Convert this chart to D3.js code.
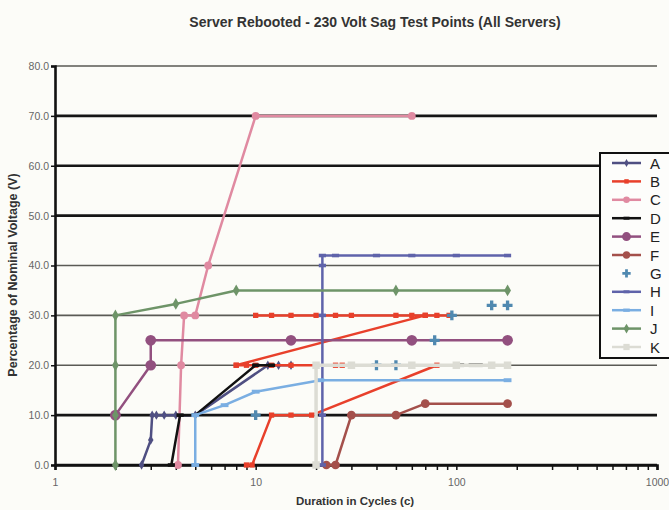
<!DOCTYPE html>
<html>
<head>
<meta charset="utf-8">
<script src="https://cdn.jsdelivr.net/npm/d3@7"></script>
<style>
  body { margin: 0; background: #fcfcf8; }
  svg { display: block; font-family: "Liberation Sans", Arial, sans-serif; }
</style>
</head>
<body>
<div id="chart"></div>
<script>
// Series names (legend order)
const seriesNames = ["A", "B", "C", "D", "E", "F", "G", "H", "I", "J", "K"];

// Test points [duration in cycles, % of nominal voltage]; null breaks the line
const seriesA = [[2.7, 0], [3, 5], [3.05, 10], [3.2, 10], [3.5, 10], [4, 10], [5, 10], [11.5, 20], [13, 20], [15, 20]];
const seriesB = [[9, 0], [9.6, 0], [12, 10], [15, 10], [19, 10], [80, 20], null,
                 [8, 20], [9, 20], [10, 20], [12, 20], [15, 20], [20, 20], [25, 20], [27, 20], null,
                 [8, 20], [70, 30], null,
                 [10, 30], [12, 30], [15, 30], [20, 30], [25, 30], [30, 30], [50, 30], [60, 30], [70, 30], [80, 30], [92, 30]];
const seriesC = [[4.1, 0], [4.25, 20], [4.4, 30], [5, 30], [5.8, 40], [10, 70], [60, 70]];
const seriesD = [[3.8, 0], [4.2, 10], [5, 10], [10, 20], [12, 20], null, [105, 20], [120, 20], [130, 20]];
const seriesE = [[2, 10], [3, 20], [3, 25], [15, 25], [60, 25], [180, 25]];
const seriesF = [[22.5, 0], [25, 0], [30, 10], [50, 10], [70, 12.3], [180, 12.3]];
const seriesG = [[10, 10], [40, 20], [50, 20], [78, 25], [95, 30], [150, 32], [180, 32]];
const seriesH = [[21.5, 0], [21.5, 10], [21.5, 30], [21.5, 40], [21.5, 42], [25, 42], [40, 42], [60, 42], [100, 42], [180, 42]];
const seriesI = [[5, 0], [5, 10], [7, 12], [10, 14.7], [21, 17], [180, 17]];
const seriesJ = [[2, 0], [2, 10], [2, 20], [2, 30], [4, 32.3], [8, 35], [50, 35], [180, 35]];
const seriesK = [[20, 0], [20, 20], [30, 20], [60, 20], [100, 20], [150, 20], [180, 20]];

const seriesData = [seriesA, seriesB, seriesC, seriesD, seriesE, seriesF, seriesG, seriesH, seriesI, seriesJ, seriesK];

// Axis ticks
const yTicks = [0, 10, 20, 30, 40, 50, 60, 70, 80];
const xTickLabels = [1, 10, 100, 1000];
const heavyGrid = [0, 10, 50, 60, 70];

// Styles per series
const colors = ["#4f4f82", "#e8402b", "#e08aa1", "#111111", "#92507f", "#a4504b",
                "#5089b0", "#5f63aa", "#7aaee2", "#6e9468", "#dcdcd4"];
const shapes = ["diamond", "square", "circle", "dash", "circle", "circle",
                "plus", "dash", "dash", "diamond", "square"];
const sizes = [26, 28, 48, 20, 90, 60, 55, 20, 24, 40, 56];
const widths = [2.5, 2.5, 2.5, 2.5, 2.5, 2.5, 0, 2.5, 2.5, 2.5, 3.5];

const width = 669, height = 510;

const svg = d3.select("#chart")
    .append("svg")
    .attr("width", width)
    .attr("height", height);

const x = d3.scaleLog().domain([1, 1000]).range([55, 657]);
const y = d3.scaleLinear().domain([0, 80]).range([465, 66]);

// Title
svg.append("text")
    .attr("x", 375).attr("y", 27)
    .attr("text-anchor", "middle")
    .attr("font-size", 14).attr("font-weight", "bold")
    .attr("fill", "#333")
    .text("Server Rebooted - 230 Volt Sag Test Points (All Servers)");

// Horizontal gridlines
svg.append("g")
  .selectAll("line")
  .data(yTicks)
  .join("line")
    .attr("x1", x(1)).attr("x2", x(1000))
    .attr("y1", d => y(d)).attr("y2", d => y(d))
    .attr("stroke", d => heavyGrid.includes(d) ? "#151515" : "#5a5a55")
    .attr("stroke-width", d => heavyGrid.includes(d) ? 2.6 : 1.6);

// Y axis
const yAxis = svg.append("g")
    .attr("transform", `translate(${x(1)},0)`)
    .call(d3.axisLeft(y).tickValues(yTicks).tickFormat(d3.format(".1f")).tickSize(4).tickPadding(2));
yAxis.select(".domain").attr("stroke", "#111").attr("stroke-width", 2.6);
yAxis.selectAll(".tick line").attr("stroke", "#111").attr("stroke-width", 1.5);
yAxis.selectAll(".tick text").attr("font-size", 10.5).attr("fill", "#666")
    .attr("font-family", "Liberation Sans, Arial, sans-serif");

// X axis
const xMinor = [];
for (let dec = 1; dec < 1000; dec *= 10) for (let k = 1; k < 10; k++) xMinor.push(dec * k);
xMinor.push(1000);
const xAxis = svg.append("g")
    .attr("transform", `translate(0,${y(0)})`)
    .call(d3.axisBottom(x).tickValues(xMinor)
        .tickFormat(d => xTickLabels.includes(d) ? d : "").tickSize(5).tickPadding(9));
xAxis.select(".domain").attr("stroke", "#111").attr("stroke-width", 2.6);
xAxis.selectAll(".tick line").attr("stroke", "#111").attr("stroke-width", 1.5);
xAxis.selectAll(".tick text").attr("font-size", 10.5).attr("fill", "#666")
    .attr("font-family", "Liberation Sans, Arial, sans-serif");

// Axis titles
svg.append("text")
    .attr("x", 355).attr("y", 505)
    .attr("text-anchor", "middle")
    .attr("font-size", 11.5).attr("font-weight", "bold").attr("fill", "#333")
    .text("Duration in Cycles (c)");
svg.append("text")
    .attr("transform", "translate(17,275) rotate(-90)")
    .attr("text-anchor", "middle")
    .attr("font-size", 12.5).attr("font-weight", "bold").attr("fill", "#333")
    .text("Percentage of Nominal Voltage (V)");

// Marker helper
function marker(g, shape, size, color) {
  if (shape === "dash") {
    const w = Math.sqrt(size) * 1.6, h = Math.sqrt(size) * 0.8;
    return g.append("rect").attr("x", -w / 2).attr("y", -h / 2).attr("width", w).attr("height", h).attr("fill", color);
  }
  const type = { diamond: d3.symbolDiamond, square: d3.symbolSquare, circle: d3.symbolCircle, plus: d3.symbolCross }[shape];
  return g.append("path").attr("d", d3.symbol().type(type).size(size)()).attr("fill", color);
}

const line = d3.line()
    .defined(d => d !== null)
    .x(d => x(d[0]))
    .y(d => y(d[1]));

// Series
seriesData.forEach((pts, i) => {
  const g = svg.append("g").attr("class", "series-" + seriesNames[i]);
  if (widths[i] > 0) {
    g.append("path")
        .datum(pts)
        .attr("d", line)
        .attr("fill", "none")
        .attr("stroke", colors[i])
        .attr("stroke-width", widths[i])
        .attr("stroke-linejoin", "round");
  }
  pts.filter(d => d !== null).forEach(d => {
    const m = g.append("g").attr("transform", `translate(${x(d[0])},${y(d[1])})`);
    marker(m, shapes[i], sizes[i], colors[i]);
  });
});

// Legend
const legend = svg.append("g").attr("transform", "translate(600,153)");
legend.append("rect")
    .attr("width", 80).attr("height", 205)
    .attr("fill", "#fdfdfb").attr("stroke", "#111").attr("stroke-width", 2);
seriesNames.forEach((name, i) => {
  const ly = 10 + i * 18.4;
  const row = legend.append("g").attr("transform", `translate(0,${ly})`);
  if (widths[i] > 0) {
    row.append("line").attr("x1", 12).attr("x2", 41).attr("y1", 0).attr("y2", 0)
        .attr("stroke", colors[i]).attr("stroke-width", 2.5);
  }
  const m = row.append("g").attr("transform", "translate(26.5,0)");
  marker(m, shapes[i], sizes[i] * 0.7, colors[i]);
  row.append("text").attr("x", 50).attr("y", 5.5)
      .attr("font-size", 15).attr("fill", "#222")
      .text(name);
});
</script>
</body>
</html>
